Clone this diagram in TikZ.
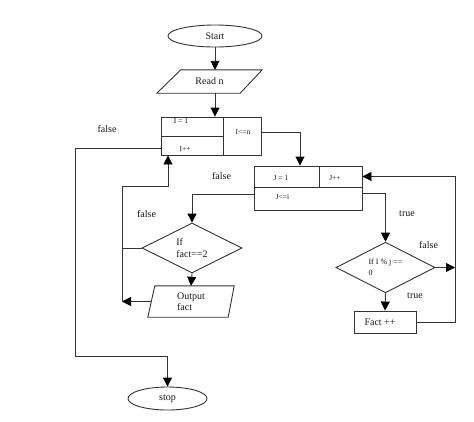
\documentclass[tikz,border=0pt]{standalone}
\usepackage{fontspec}
\setmainfont{Liberation Serif}
\usetikzlibrary{shapes.geometric,arrows.meta}
\begin{document}
\begin{tikzpicture}[x=1pt,y=-1pt,
  every node/.style={text=black!90},
  ln/.style={draw=black!80, line width=0.9pt},
  arr/.style={ln, -{Triangle[length=9pt,width=9pt,color=black]}},
  term/.style={ellipse, ln, inner sep=0pt, font=\fontsize{10}{11}\selectfont},
  cell/.style={rectangle, ln, inner sep=0pt},
  ctext/.style={font=\fontsize{7.5}{8}\selectfont, text=black!90},
  body/.style={rectangle, inner sep=0pt, font=\fontsize{10}{11}\selectfont},
  dec/.style={diamond, ln, inner sep=0pt, align=left},
  lab/.style={font=\fontsize{10}{11}\selectfont}
]
\useasboundingbox[fill=white] (0,0) rectangle (474,421);

% terminals
\node[term, minimum width=94pt, minimum height=22pt] (start) at (215,36) {Start};
\node[term, minimum width=79pt, minimum height=23pt] (stop) at (167.5,398.5) {stop};

% Read n (parallelogram)
\node[body, minimum width=105pt, minimum height=23pt] (read) at (209.5,81.5) {Read n};
\draw[ln] (read.south west) -- ([xshift=24pt]read.north west) -- (read.north east)
  -- ([xshift=-22pt]read.south east) -- cycle;

% outer loop box
\node[cell, minimum width=62pt, minimum height=19pt,
  label={[ctext, xshift=-11pt, yshift=5pt]center:I = 1}] (b1a) at (192,126.5) {};
\node[cell, minimum width=62pt, minimum height=19pt,
  label={[ctext, xshift=-7pt, yshift=-4pt]center:I++}] (b1b) at (192,145.5) {};
\node[cell, minimum width=38pt, minimum height=38pt,
  label={[ctext, xshift=1pt, yshift=4pt]center:I<=n}] (b1c) at (242,136) {};

% inner loop box
\node[cell, minimum width=65pt, minimum height=21pt,
  label={[ctext, xshift=-5.5pt, yshift=-1.5pt]center:J = 1}] (b2a) at (286.5,176.5) {};
\node[cell, minimum width=43pt, minimum height=21pt,
  label={[ctext, xshift=-5.5pt, yshift=-1.5pt]center:J++}] (b2b) at (340.5,176.5) {};
\node[cell, minimum width=108pt, minimum height=23pt,
  label={[ctext, xshift=-25.5pt, yshift=1pt]center:J<=i}] (b2c) at (308,198.5) {};

% decisions
\node[dec, minimum width=99pt, minimum height=39pt, font=\fontsize{8}{11}\selectfont]
  (d2) at (385.5,267.5) {If I \% j ==\\0};
\node[dec, minimum width=100pt, minimum height=30pt, font=\fontsize{10}{11.5}\selectfont]
  (d1) at (192,248) {If\\fact==2};

% Fact ++
\node[cell, minimum width=62pt, minimum height=22pt,
  label={[font=\fontsize{10}{11}\selectfont, text=black!90, xshift=-5pt]center:Fact ++}] (fact) at (385,322) {};

% Output fact (parallelogram)
\node[body, minimum width=86pt, minimum height=31pt, align=left] (out) at (191,301.5) {Output\\fact};
\draw[ln] (out.south west) -- ([xshift=7pt]out.north west) -- (out.north east)
  -- ([xshift=-6pt]out.south east) -- cycle;

% helper coordinates
\coordinate (rr) at (455,322);
\coordinate (lr) at (122,301.5);
\coordinate (ll) at (75,356);

% connectors
\draw[arr] (start.south) -- (start.south |- read.north);
\draw[arr] (start.south |- read.south) -- (start.south |- b1a.north);
\draw[arr] ([yshift=4pt]b1c.east) -| ([xshift=13.5pt]b2a.north);
\draw[arr] ([yshift=5pt]b2c.east) -| (d2.north);
\draw[arr] (d2.south) -- (fact.north);
\draw[arr] (d2.east) -- (rr |- d2.east);
\draw[arr] (fact.east) -- (rr) -- (rr |- b2b.east) -- (b2b.east);
\draw[arr] ([yshift=4.5pt]b2c.west) -| (d1.north);
\draw[arr] (d1.south) -- (out.north);
\draw[arr] ([xshift=3.5pt]out.west) -- (lr);
\draw[ln] (d1.west) -- (lr |- d1.west);
\draw[arr] (lr) -- (122,186) -| ([xshift=-24pt]b1b.south);
\draw[arr] ([yshift=-2.5pt]b1b.west) -| (ll) -| (stop.north);

% labels
\node[lab] (lf1) at (107,129) {false};
\node[lab] (lf2) at (221.5,176) {false};
\node[lab] (lf3) at (146.5,214) {false};
\node[lab] (lt1) at (407,214) {true};
\node[lab] (lf4) at (428.5,245) {false};
\node[lab] (lt2) at (415,296) {true};
\end{tikzpicture}
\end{document}
